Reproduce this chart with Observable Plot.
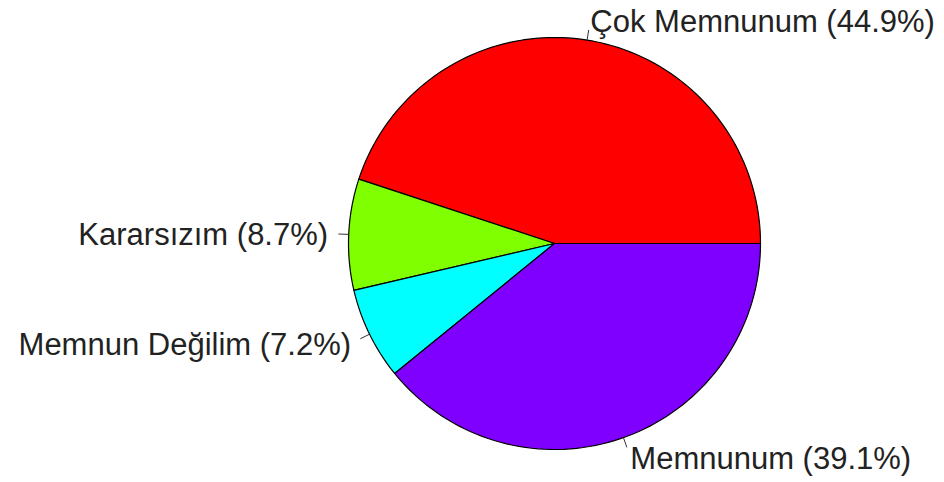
<!DOCTYPE html>
<html>
<head>
<meta charset="utf-8">
<script src="https://cdn.jsdelivr.net/npm/d3@7"></script>
<script src="https://cdn.jsdelivr.net/npm/@observablehq/plot@0.6"></script>
<style>
  html, body { margin: 0; padding: 0; background: #fff; }
</style>
</head>
<body>
<div id="chart"></div>
<script>
const categories = ["Çok Memnunum", "Kararsızım", "Memnun Değilim", "Memnunum"];
const percents = [44.9, 8.7, 7.2, 39.1];
const colors = ["#FF0000", "#80FF00", "#00FFFF", "#8000FF"];

const W = 944, H = 482;
const R = 206;            // radius in px
const cx = 554, cy = 243; // centre in px

const total = d3.sum(percents);
let acc = 0;
const slices = percents.map((p, i) => {
  const a0 = acc / total * 2 * Math.PI;
  acc += p;
  const a1 = acc / total * 2 * Math.PI;
  return {name: categories[i], pct: p, color: colors[i], a0, a1, mid: (a0 + a1) / 2};
});

// polygon points for each slice (unit circle, counter-clockwise from east)
const polys = [];
for (const s of slices) {
  const n = Math.max(2, Math.ceil((s.a1 - s.a0) / (2 * Math.PI) * 200));
  polys.push({k: s.name, color: s.color, x: 0, y: 0});
  for (let j = 0; j <= n; j++) {
    const a = s.a0 + (s.a1 - s.a0) * j / n;
    polys.push({k: s.name, color: s.color, x: Math.cos(a), y: Math.sin(a)});
  }
  polys.push({k: s.name, color: s.color, x: 0, y: 0});
}

const ticks = slices.map(s => ({
  x1: Math.cos(s.mid), y1: Math.sin(s.mid),
  x2: 1.05 * Math.cos(s.mid), y2: 1.05 * Math.sin(s.mid)
}));
const labels = slices.map(s => ({
  x: 1.1 * Math.cos(s.mid), y: 1.1 * Math.sin(s.mid),
  text: `${s.name} (${s.pct.toFixed(1)}%)`
}));

const chart = Plot.plot({
  width: W, height: H,
  margin: 0,
  style: {background: "#fff", fontFamily: "'Liberation Sans', Arial, sans-serif"},
  x: {domain: [-cx / R, (W - cx) / R], range: [0, W], axis: null},
  y: {domain: [-(H - cy) / R, cy / R], range: [H, 0], axis: null},
  color: {type: "identity"},
  marks: [
    Plot.line(polys, {x: "x", y: "y", z: "k", fill: "color", stroke: "#000", strokeWidth: 1.2, curve: "linear"}),
    Plot.link(ticks, {x1: "x1", y1: "y1", x2: "x2", y2: "y2", stroke: "#333", strokeWidth: 1}),
    Plot.text(labels.filter(d => d.x >= 0), {x: "x", y: "y", text: "text", textAnchor: "start", fontSize: 31, dy: 2, fill: "#222"}),
    Plot.text(labels.filter(d => d.x < 0), {x: "x", y: "y", text: "text", textAnchor: "end", fontSize: 31, dy: 2, fill: "#222"})
  ]
});
document.getElementById("chart").appendChild(chart);
</script>
</body>
</html>
